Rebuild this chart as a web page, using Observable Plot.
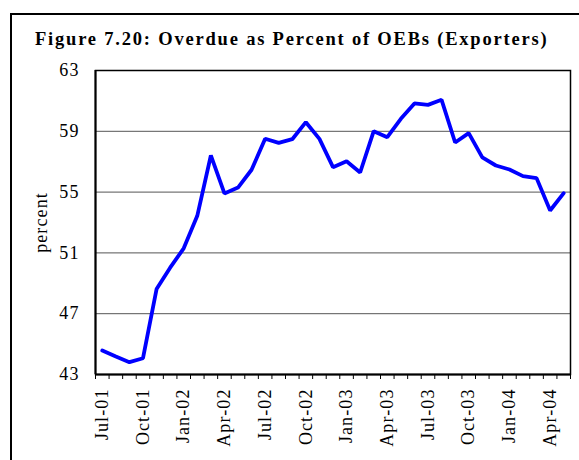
<!DOCTYPE html>
<html>
<head>
<meta charset="utf-8">
<script src="https://cdn.jsdelivr.net/npm/d3@7"></script>
<script src="https://cdn.jsdelivr.net/npm/@observablehq/plot@0.6"></script>
<style>
  html, body { margin: 0; padding: 0; background: #fff; }
  body { width: 579px; height: 460px; overflow: hidden; position: relative; font-family: "Liberation Serif", "Times New Roman", serif; }
  #frame { position: absolute; left: 10px; top: 13px; width: 640px; height: 520px; border-left: 2px solid #000; border-top: 2px solid #000; z-index: 5; pointer-events: none; }
  #title { position: absolute; left: 35px; top: 29px; font-size: 18.5px; line-height: 20px; font-weight: bold; letter-spacing: 1.8px; white-space: nowrap; color: #000; }
  #chart { position: absolute; left: 0; top: 56px; }
  #chart svg text { letter-spacing: 1.1px; }
</style>
</head>
<body>
<div id="frame"></div>
<div id="title">Figure 7.20: Overdue as Percent of OEBs (Exporters)</div>
<div id="chart"></div>
<script>
const months = ["Jul-01","Aug-01","Sep-01","Oct-01","Nov-01","Dec-01","Jan-02","Feb-02","Mar-02","Apr-02","May-02","Jun-02","Jul-02","Aug-02","Sep-02","Oct-02","Nov-02","Dec-02","Jan-03","Feb-03","Mar-03","Apr-03","May-03","Jun-03","Jul-03","Aug-03","Sep-03","Oct-03","Nov-03","Dec-03","Jan-04","Feb-04","Mar-04","Apr-04","May-04"];
const values = [44.58,44.18,43.81,44.07,48.62,50.03,51.3,53.44,57.41,54.91,55.30,56.47,58.51,58.24,58.48,59.60,58.50,56.64,57.03,56.29,59.01,58.61,59.82,60.83,60.74,61.07,58.26,58.88,57.28,56.75,56.49,56.05,55.92,53.79,54.93];
const yTicks = [43, 47, 51, 55, 59, 63];
const labelEvery = 3;

const data = months.map((m, i) => ({i, month: m, v: values[i]}));
const boundaries = d3.range(months.length + 1).map(i => i - 0.5);
const labelIdx = d3.range(0, months.length, labelEvery);

const chart = Plot.plot({
  width: 579,
  height: 404,
  marginTop: 14,
  marginBottom: 86,
  marginLeft: 95,
  marginRight: 9,
  x: {type: "linear", domain: [-0.5, months.length - 0.5]},
  y: {domain: [yTicks[0], yTicks[yTicks.length - 1]]},
  style: {fontFamily: "'Liberation Serif', 'Times New Roman', serif", fontSize: "18px", color: "#000", background: "transparent"},
  marks: [
    Plot.gridY(yTicks.slice(1, -1), {stroke: "#555", strokeOpacity: 1, strokeWidth: 1}),
    Plot.axisY(yTicks, {tickSize: 0, tickPadding: 16, label: "percent", labelArrow: false, labelAnchor: "center", labelOffset: 61, fontSize: 18}),
    Plot.axisX(boundaries, {tickSize: 5, tickFormat: () => "", stroke: "#000", strokeWidth: 1, label: null}),
    Plot.axisX(labelIdx, {tickSize: 0, tickRotate: -90, tickPadding: 14, tickFormat: i => months[i], fontSize: 18, label: null}),
    Plot.frame({stroke: "#000", strokeWidth: 1.5}),
    Plot.ruleY([yTicks[0]], {stroke: "#000", strokeWidth: 2}),
    Plot.ruleX([-0.5], {stroke: "#000", strokeWidth: 2}),
    Plot.line(data, {x: "i", y: "v", stroke: "#0000ff", strokeWidth: 3.8, strokeLinejoin: "miter"})
  ]
});
document.getElementById("chart").appendChild(chart);
</script>
</body>
</html>
